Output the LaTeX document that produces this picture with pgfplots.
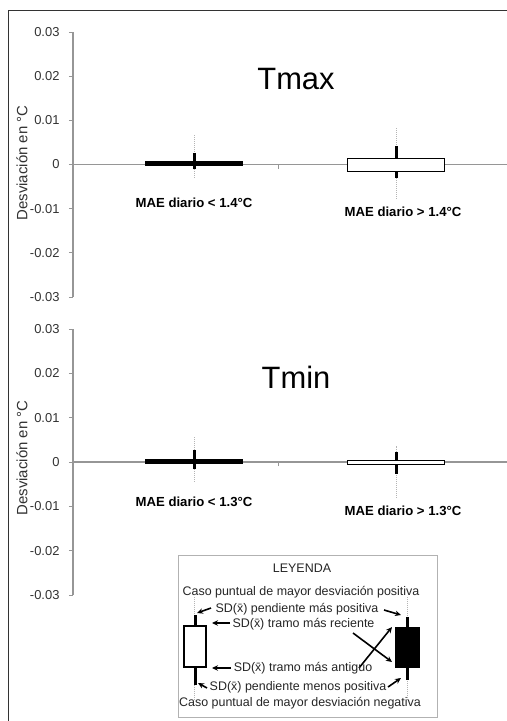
\documentclass[border=0pt]{standalone}
\usepackage{fontspec}
\setmainfont{Liberation Sans}
\usepackage{pgfplots}
\pgfplotsset{compat=1.18}
\usetikzlibrary{arrows.meta}

\definecolor{AxisGray}{RGB}{150,150,150}
\definecolor{TextGray}{RGB}{50,50,50}
\definecolor{DotGray}{RGB}{180,180,180}

\pgfplotsset{
  panel/.style={
    scale only axis, width=437bp, anchor=south west,
    xmin=73, xmax=510, ymin=-0.03, ymax=0.03,
    axis x line=middle, axis y line=left,
    axis line style={AxisGray, line width=1.2bp, -},
    tick style={AxisGray, line width=1bp},
    major tick length=4bp, tick align=outside,
    xtick={278}, xticklabels={},
    ytick={-0.03,-0.02,-0.01,0,0.01,0.02,0.03},
    scaled y ticks=false,
    /pgf/number format/fixed, /pgf/number format/precision=2,
    /pgf/number format/assume math mode=true,
    yticklabel style={font=\fontsize{13}{15}\selectfont, text=TextGray, xshift=-6bp},
    clip=false,
  },
  dots/.style={DotGray, densely dotted, line width=1bp},
  whisk/.style={black, line width=3bp},
  boxw/.style={draw=black, line width=1.5bp, fill=white},
  boxb/.style={draw=black, line width=1.5bp, fill=black},
}
\tikzset{arr/.style={-{Stealth[length=6bp, width=5.5bp]}, line width=1.6bp, black}}

\newcommand{\mae}[1]{\fontsize{13.2}{15}\selectfont\bfseries #1}
\newcommand{\leg}{\fontsize{12.5}{14}\selectfont\color{black!85}}

\begin{document}
\begin{tikzpicture}
\useasboundingbox (0,0) rectangle (507bp,-721bp);
\draw[line width=1.5bp, black!80] (540bp,-10.5bp) -- (8.5bp,-10.5bp) -- (8.5bp,-740bp);

% Tmax
\begin{axis}[panel, at={(73bp,-297bp)}, height=265bp]
  \addplot[dots] coordinates {(194,-0.0030) (194,0.0068)};
  \addplot[boxb] coordinates {(145.5,-0.0002) (242.5,-0.0002) (242.5,0.0007) (145.5,0.0007)} -- cycle;
  \addplot[whisk] coordinates {(194,-0.0011) (194,0.0027)};
  \addplot[dots] coordinates {(396,-0.0077) (396,0.0085)};
  \addplot[whisk] coordinates {(396,-0.0030) (396,0.0043)};
  \addplot[boxw] coordinates {(347.5,-0.0016) (444.5,-0.0016) (444.5,0.0014) (347.5,0.0014)} -- cycle;
\end{axis}

% Tmin
\begin{axis}[panel, at={(73bp,-595bp)}, height=266bp]
  \addplot[dots] coordinates {(194,-0.0045) (194,0.0057)};
  \addplot[boxb] coordinates {(145.5,-0.0002) (242.5,-0.0002) (242.5,0.0006) (145.5,0.0006)} -- cycle;
  \addplot[whisk] coordinates {(194,-0.0016) (194,0.0026)};
  \addplot[dots] coordinates {(396,-0.0081) (396,0.0037)};
  \addplot[whisk] coordinates {(396,-0.0026) (396,0.0023)};
  \addplot[boxw] coordinates {(347.5,-0.0006) (444.5,-0.0006) (444.5,0.0003) (347.5,0.0003)} -- cycle;
\end{axis}

% text of the panels
\node at (296bp,-79bp) {\fontsize{31}{36}\selectfont Tmax};
\node at (296bp,-377bp) {\fontsize{31}{36}\selectfont Tmin};
\node at (194bp,-203bp) {\mae{MAE diario < 1.4°C}};
\node at (403bp,-212bp) {\mae{MAE diario > 1.4°C}};
\node at (194bp,-502bp) {\mae{MAE diario < 1.3°C}};
\node at (403bp,-511bp) {\mae{MAE diario > 1.3°C}};
\node[rotate=90, text=TextGray] at (22bp,-163bp) {\fontsize{15}{18}\selectfont Desviación en °C};
\node[rotate=90, text=TextGray] at (22bp,-458bp) {\fontsize{15}{18}\selectfont Desviación en °C};

% legend
\begin{axis}[at={(178bp,-717bp)}, anchor=south west, scale only axis,
    width=259bp, height=162bp,
    xmin=178, xmax=437, ymin=555, ymax=717, y dir=reverse,
    xtick=\empty, ytick=\empty,
    axis line style={black!30, line width=1bp},
    axis background/.style={fill=white}, clip=false]
  \addplot[dots] coordinates {(194,597) (194,700)};
  \addplot[whisk] coordinates {(195,615) (195,685)};
  \addplot[boxw] coordinates {(184,626) (206,626) (206,667) (184,667)} -- cycle;
  \addplot[dots] coordinates {(407,597) (407,700)};
  \addplot[whisk] coordinates {(407,617) (407,680)};
  \addplot[boxb] coordinates {(396,628) (419,628) (419,667) (396,667)} -- cycle;

  \draw[arr] (axis cs:211,608) -- (axis cs:197,613);
  \draw[arr] (axis cs:230,623) -- (axis cs:212,623);
  \draw[arr] (axis cs:231,668) -- (axis cs:212,668);
  \draw[arr] (axis cs:207,688) -- (axis cs:198,683);
  \draw[arr] (axis cs:384,610) -- (axis cs:401,615);
  \draw[arr] (axis cs:353,633) -- (axis cs:392,662);
  \draw[arr] (axis cs:359,668) -- (axis cs:392,627);
  \draw[arr] (axis cs:388,687) -- (axis cs:401,678);

  \node at (axis cs:302,568) {\leg LEYENDA};
  \node at (axis cs:301,592) {\leg Caso puntual de mayor desviación positiva};
  \node at (axis cs:297,609) {\leg SD(\={x}) pendiente más positiva};
  \node at (axis cs:303.5,624) {\leg SD(\={x}) tramo más reciente};
  \node at (axis cs:303,668) {\leg SD(\={x}) tramo más antiguo};
  \node at (axis cs:298,687) {\leg SD(\={x}) pendiente menos positiva};
  \node at (axis cs:300,703) {\leg Caso puntual de mayor desviación negativa};
\end{axis}
\end{tikzpicture}
\end{document}
